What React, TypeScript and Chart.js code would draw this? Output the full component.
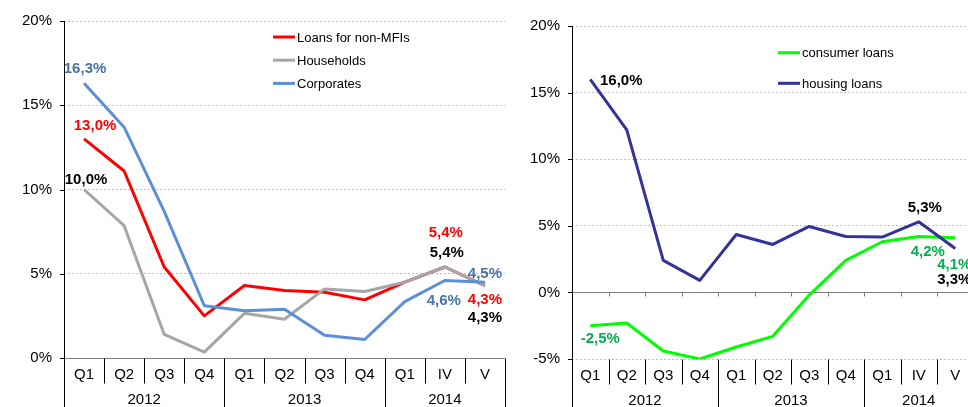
import React, { useEffect, useRef } from 'react';
import { Chart, registerables } from 'chart.js';

Chart.register(...registerables);

// ---------- data ----------
const categories = ['Q1', 'Q2', 'Q3', 'Q4', 'Q1', 'Q2', 'Q3', 'Q4', 'Q1', 'IV', 'V'];
const years = ['2012', '2013', '2014'];
const yearSizes = [4, 4, 3];

const loansNonMFI = [13.0, 11.1, 5.4, 2.5, 4.3, 4.0, 3.9, 3.45, 4.5, 5.4, 4.3];
const households = [10.0, 7.85, 1.4, 0.35, 2.65, 2.3, 4.1, 3.95, 4.5, 5.4, 4.3];
const corporates = [16.3, 13.7, 8.7, 3.1, 2.8, 2.9, 1.35, 1.1, 3.35, 4.6, 4.5];

const consumerLoans = [-2.5, -2.3, -4.4, -5.0, -4.1, -3.3, -0.2, 2.4, 3.8, 4.2, 4.1];
const housingLoans = [16.0, 12.2, 2.4, 0.9, 4.35, 3.6, 4.95, 4.2, 4.15, 5.3, 3.3];

const leftRange = { min: 0, max: 20, step: 5 };
const rightRange = { min: -5, max: 20, step: 5 };

// ---------- styles ----------
const FONT = "'Liberation Sans', Arial, sans-serif";
const RED = '#FF0000';
const GRAY = '#A6A6A6';
const BLUE = '#5B8FD6';
const BLUE_TXT = '#4A72A6';
const NAVY = '#333399';
const LIME = '#00FF00';
const GREEN_TXT = '#00B050';

const fmt = (v: number) => v.toFixed(1).replace('.', ',') + '%';

type Ann = { ds: number; idx: number; dx: number; dy: number; color: string };

function decorPlugin(opts: {
  legend: { x: number; y: number; dy: number };
  anns: Ann[];
}) {
  return {
    id: 'decor',
    beforeDatasetsDraw(chart: any) {
      const { ctx, chartArea: a, scales } = chart;
      const xs = scales.x;
      const ys = scales.y;
      const H = chart.height;
      const n = categories.length;
      const half = (xs.getPixelForValue(1) - xs.getPixelForValue(0)) / 2;
      const bnd = (i: number) => Math.round(xs.getPixelForValue(i) - half) + 0.5;
      const line = (x1: number, y1: number, x2: number, y2: number) => {
        ctx.beginPath();
        ctx.moveTo(x1, y1);
        ctx.lineTo(x2, y2);
        ctx.stroke();
      };
      ctx.save();
      ctx.lineWidth = 1;
      // zero line
      const y0 = Math.round(ys.getPixelForValue(0)) + 0.5;
      ctx.strokeStyle = '#808080';
      line(a.left - 4, y0, a.right, y0);
      // zero-line tick marks (when zero is not the bottom)
      if (Math.abs(y0 - a.bottom) > 3) {
        for (let i = 1; i <= n; i++) line(bnd(i), y0, bnd(i), y0 + 4);
      }
      // y tick marks
      ctx.strokeStyle = '#000';
      ys.ticks.forEach((t: any) => {
        const py = Math.round(ys.getPixelForValue(t.value)) + 0.5;
        line(a.left - 4, py, a.left, py);
      });
      // y axis line
      const ax = Math.round(a.left) + 0.5;
      line(ax, a.top, ax, H);
      // category separators
      const yearStarts = new Set<number>();
      let acc = 0;
      yearSizes.forEach((s) => {
        yearStarts.add(acc);
        acc += s;
      });
      yearStarts.add(acc);
      const catTop = Math.round(a.bottom) + 0.5;
      ctx.strokeStyle = '#000';
      for (let i = 1; i <= n; i++) {
        if (yearStarts.has(i)) line(bnd(i), catTop, bnd(i), H);
        else line(bnd(i), catTop, bnd(i), catTop + 25);
      }
      // category labels
      ctx.fillStyle = '#000';
      ctx.font = `15px ${FONT}`;
      ctx.textAlign = 'center';
      ctx.textBaseline = 'middle';
      categories.forEach((c, i) => ctx.fillText(c, xs.getPixelForValue(i), a.bottom + 17));
      // year labels
      let start = 0;
      years.forEach((yv, k) => {
        const end = start + yearSizes[k] - 1;
        const cx = (xs.getPixelForValue(start) + xs.getPixelForValue(end)) / 2;
        ctx.fillText(yv, cx, a.bottom + 42);
        start = end + 1;
      });
      ctx.restore();
    },
    afterDatasetsDraw(chart: any) {
      const { ctx } = chart;
      ctx.save();
      // data labels
      ctx.font = `bold 15px ${FONT}`;
      ctx.textAlign = 'center';
      ctx.textBaseline = 'middle';
      opts.anns.forEach((an) => {
        const pt = chart.getDatasetMeta(an.ds).data[an.idx];
        const v = chart.data.datasets[an.ds].data[an.idx] as number;
        ctx.fillStyle = an.color;
        ctx.fillText(fmt(v), pt.x + an.dx, pt.y + an.dy);
      });
      // legend
      ctx.font = `13px ${FONT}`;
      ctx.textAlign = 'left';
      chart.data.datasets.forEach((d: any, i: number) => {
        const yy = opts.legend.y + i * opts.legend.dy;
        ctx.strokeStyle = d.borderColor;
        ctx.lineWidth = 3;
        ctx.beginPath();
        ctx.moveTo(opts.legend.x, yy);
        ctx.lineTo(opts.legend.x + 22, yy);
        ctx.stroke();
        ctx.fillStyle = '#000';
        ctx.fillText(d.label, opts.legend.x + 24, yy + 1);
      });
      ctx.restore();
    },
  };
}

function makeOptions(range: { min: number; max: number; step: number }, padding: any) {
  return {
    responsive: false,
    animation: false as const,
    devicePixelRatio: 1,
    layout: { padding },
    plugins: { legend: { display: false }, tooltip: { enabled: false } },
    elements: { point: { radius: 0 }, line: { tension: 0, borderWidth: 3, borderJoinStyle: 'round' as const } },
    scales: {
      x: { type: 'category' as const, display: false, offset: true },
      y: {
        min: range.min,
        max: range.max,
        afterFit: (s: any) => {
          s.width = 64;
        },
        ticks: {
          stepSize: range.step,
          padding: 12,
          color: '#000',
          font: { family: FONT, size: 15 },
          callback: (v: any) => v + '%',
        },
        grid: { color: '#C0C0C0', drawTicks: false, lineWidth: 1 },
        border: { display: false, dash: [2, 2] },
      },
    },
  };
}

export default function App() {
  const leftRef = useRef<HTMLCanvasElement>(null);
  const rightRef = useRef<HTMLCanvasElement>(null);

  useEffect(() => {
    Chart.defaults.font.family = FONT;
    const left = new Chart(leftRef.current!, {
      type: 'line',
      data: {
        labels: categories,
        datasets: [
          { label: 'Loans for non-MFIs', data: loansNonMFI, borderColor: RED, backgroundColor: RED, order: 2 },
          { label: 'Households', data: households, borderColor: GRAY, backgroundColor: GRAY, order: 1 },
          { label: 'Corporates', data: corporates, borderColor: BLUE, backgroundColor: BLUE, order: 0 },
        ],
      },
      options: makeOptions(leftRange, { top: 17, left: 0, right: 3, bottom: 49 }) as any,
      plugins: [
        decorPlugin({
          legend: { x: 273, y: 37, dy: 23.2 },
          anns: [
            { ds: 2, idx: 0, dx: 1, dy: -14, color: BLUE_TXT },
            { ds: 0, idx: 0, dx: 11, dy: -13, color: RED },
            { ds: 1, idx: 0, dx: 2, dy: -10, color: '#000' },
            { ds: 0, idx: 9, dx: 1, dy: -34, color: RED },
            { ds: 1, idx: 9, dx: 2, dy: -14, color: '#000' },
            { ds: 2, idx: 9, dx: -1, dy: 20, color: BLUE_TXT },
            { ds: 2, idx: 10, dx: 0, dy: -8, color: BLUE_TXT },
            { ds: 0, idx: 10, dx: 0, dy: 14, color: RED },
            { ds: 1, idx: 10, dx: 0, dy: 32, color: '#000' },
          ],
        }),
      ],
    });
    const right = new Chart(rightRef.current!, {
      type: 'line',
      data: {
        labels: categories,
        datasets: [
          { label: 'consumer loans', data: consumerLoans, borderColor: LIME, backgroundColor: LIME, order: 1 },
          { label: 'housing loans', data: housingLoans, borderColor: NAVY, backgroundColor: NAVY, order: 0 },
        ],
      },
      options: makeOptions(rightRange, { top: 26, left: 0, right: 4.5, bottom: 48 }) as any,
      plugins: [
        decorPlugin({
          legend: { x: 270, y: 52.7, dy: 30.6 },
          anns: [
            { ds: 1, idx: 0, dx: 31, dy: 1.5, color: '#000' },
            { ds: 1, idx: 9, dx: 6, dy: -14, color: '#000' },
            { ds: 0, idx: 9, dx: 9, dy: 15, color: GREEN_TXT },
            { ds: 0, idx: 10, dx: -1, dy: 27, color: GREEN_TXT },
            { ds: 1, idx: 10, dx: -1, dy: 31, color: '#000' },
            { ds: 0, idx: 0, dx: 10, dy: 13, color: GREEN_TXT },
          ],
        }),
      ],
    });
    return () => {
      left.destroy();
      right.destroy();
    };
  }, []);

  return (
    <div
      style={{
        position: 'fixed',
        left: 0,
        top: 0,
        width: 968,
        height: 407,
        overflow: 'hidden',
        background: '#fff',
      }}
    >
      <canvas
        ref={leftRef}
        width={508}
        height={407}
        style={{ position: 'absolute', left: 0, top: 0, width: 508, height: 407 }}
      />
      <canvas
        ref={rightRef}
        width={470}
        height={407}
        style={{ position: 'absolute', left: 508, top: 0, width: 470, height: 407 }}
      />
    </div>
  );
}
